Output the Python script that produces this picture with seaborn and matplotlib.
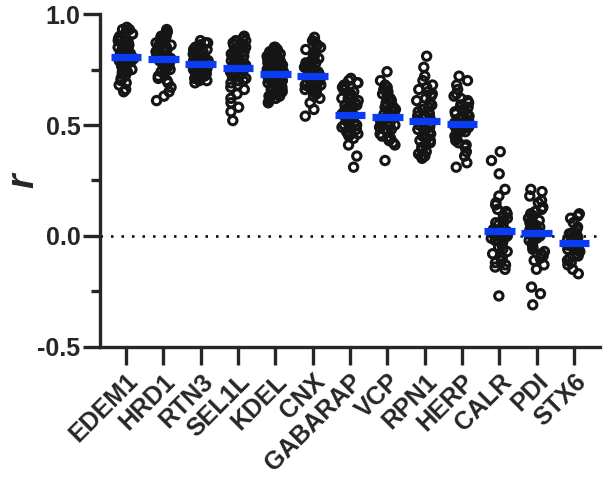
import numpy as np
import pandas as pd
import matplotlib
matplotlib.use("Agg")
import matplotlib.pyplot as plt
import seaborn as sns
from matplotlib.ticker import MultipleLocator

categories = ["EDEM1", "HRD1", "RTN3", "SEL1L", "KDEL", "CNX", "GABARAP",
              "VCP", "RPN1", "HERP", "CALR", "PDI", "STX6"]

edem1 = [0.94,0.93,0.93,0.92,0.91,0.91,0.90,0.89,0.89,0.88,0.88,0.87,0.87,0.86,0.86,0.85,0.85,0.84,0.84,0.84,0.83,0.83,0.83,0.82,0.82,0.82,0.81,0.81,0.81,0.80,0.80,0.80,0.80,0.79,0.79,0.79,0.78,0.78,0.78,0.77,0.77,0.77,0.76,0.76,0.75,0.75,0.74,0.74,0.73,0.72,0.71,0.70,0.69,0.68,0.66,0.65]
hrd1 = [0.93,0.92,0.92,0.91,0.90,0.90,0.89,0.88,0.88,0.87,0.87,0.86,0.86,0.85,0.85,0.84,0.84,0.84,0.83,0.83,0.83,0.82,0.82,0.82,0.81,0.81,0.81,0.80,0.80,0.80,0.79,0.79,0.79,0.78,0.78,0.77,0.77,0.76,0.76,0.75,0.75,0.74,0.73,0.72,0.71,0.70,0.69,0.67,0.65,0.63,0.61]
rtn3 = [0.88,0.87,0.87,0.86,0.86,0.85,0.85,0.84,0.84,0.83,0.83,0.83,0.82,0.82,0.81,0.81,0.80,0.80,0.80,0.79,0.79,0.79,0.78,0.78,0.78,0.77,0.77,0.77,0.77,0.76,0.76,0.76,0.75,0.75,0.75,0.74,0.74,0.74,0.73,0.73,0.72,0.72,0.71,0.71,0.70,0.70,0.69]
sel1l = [0.90,0.89,0.88,0.88,0.87,0.86,0.86,0.85,0.85,0.84,0.84,0.83,0.83,0.82,0.82,0.81,0.81,0.80,0.80,0.80,0.79,0.79,0.78,0.78,0.77,0.77,0.77,0.76,0.76,0.76,0.75,0.75,0.74,0.74,0.73,0.73,0.72,0.72,0.71,0.70,0.70,0.69,0.68,0.67,0.66,0.64,0.62,0.60,0.58,0.56,0.52]
kdel = [0.85,0.85,0.84,0.84,0.83,0.83,0.83,0.82,0.82,0.82,0.81,0.81,0.81,0.81,0.80,0.80,0.80,0.80,0.79,0.79,0.79,0.79,0.78,0.78,0.78,0.78,0.78,0.77,0.77,0.77,0.77,0.77,0.76,0.76,0.76,0.76,0.76,0.75,0.75,0.75,0.75,0.75,0.74,0.74,0.74,0.74,0.74,0.73,0.73,0.73,0.73,0.73,0.72,0.72,0.72,0.72,0.72,0.71,0.71,0.71,0.71,0.71,0.70,0.70,0.70,0.70,0.70,0.69,0.69,0.69,0.69,0.68,0.68,0.68,0.68,0.67,0.67,0.67,0.66,0.66,0.66,0.65,0.65,0.64,0.64,0.63,0.63,0.62,0.62,0.61,0.60]
cnx = [0.895,0.88,0.87,0.86,0.85,0.84,0.83,0.82,0.82,0.81,0.80,0.80,0.79,0.79,0.78,0.78,0.77,0.77,0.76,0.76,0.75,0.75,0.75,0.74,0.74,0.73,0.73,0.73,0.72,0.72,0.71,0.71,0.70,0.70,0.69,0.69,0.68,0.68,0.67,0.67,0.66,0.66,0.65,0.64,0.63,0.62,0.60,0.57,0.54]
gabarap = [0.71,0.70,0.69,0.69,0.68,0.67,0.66,0.66,0.65,0.64,0.63,0.63,0.62,0.62,0.61,0.60,0.60,0.59,0.59,0.58,0.58,0.57,0.57,0.56,0.56,0.55,0.55,0.54,0.54,0.53,0.53,0.52,0.52,0.51,0.51,0.50,0.50,0.49,0.48,0.47,0.46,0.46,0.45,0.44,0.41,0.36,0.31]
vcp = [0.74,0.70,0.68,0.67,0.66,0.65,0.64,0.63,0.63,0.62,0.61,0.60,0.60,0.59,0.58,0.58,0.57,0.57,0.56,0.56,0.55,0.55,0.54,0.54,0.53,0.53,0.52,0.52,0.51,0.51,0.50,0.50,0.49,0.48,0.48,0.47,0.46,0.45,0.44,0.43,0.42,0.41,0.34]
rpn1 = [0.81,0.76,0.72,0.70,0.68,0.67,0.66,0.65,0.64,0.63,0.62,0.61,0.60,0.59,0.58,0.57,0.57,0.56,0.56,0.55,0.54,0.54,0.53,0.53,0.52,0.52,0.51,0.50,0.50,0.49,0.48,0.48,0.47,0.46,0.46,0.45,0.44,0.43,0.43,0.42,0.41,0.40,0.39,0.38,0.37,0.36,0.36,0.35]
herp = [0.72,0.70,0.68,0.66,0.64,0.63,0.62,0.61,0.60,0.59,0.59,0.58,0.57,0.57,0.56,0.56,0.55,0.55,0.54,0.54,0.53,0.53,0.52,0.52,0.51,0.51,0.50,0.50,0.49,0.49,0.48,0.48,0.47,0.46,0.46,0.45,0.44,0.43,0.42,0.41,0.40,0.38,0.36,0.33,0.31]
calr = [0.38,0.34,0.28,0.21,0.18,0.15,0.14,0.12,0.11,0.10,0.09,0.08,0.07,0.06,0.05,0.05,0.04,0.04,0.03,0.03,0.02,0.02,0.01,0.01,0.00,0.00,-0.01,-0.01,-0.02,-0.02,-0.03,-0.04,-0.05,-0.06,-0.07,-0.08,-0.09,-0.10,-0.11,-0.12,-0.13,-0.14,-0.15,-0.27]
pdi = [0.21,0.20,0.18,0.16,0.15,0.13,0.12,0.11,0.10,0.09,0.08,0.07,0.06,0.06,0.05,0.05,0.04,0.04,0.03,0.03,0.02,0.02,0.01,0.01,0.00,0.00,-0.01,-0.02,-0.03,-0.04,-0.05,-0.06,-0.07,-0.08,-0.09,-0.10,-0.11,-0.13,-0.15,-0.23,-0.26,-0.31]
stx6 = [0.10,0.09,0.08,0.06,0.04,0.03,0.02,0.01,0.01,0.00,0.00,-0.01,-0.01,-0.02,-0.02,-0.03,-0.03,-0.03,-0.04,-0.04,-0.05,-0.05,-0.06,-0.06,-0.07,-0.08,-0.09,-0.10,-0.11,-0.12,-0.13,-0.15,-0.17]

# mean line values
means = [0.805, 0.796, 0.774, 0.755, 0.728, 0.719, 0.543, 0.534, 0.52, 0.505, 0.023, 0.014, -0.03]

series = [edem1, hrd1, rtn3, sel1l, kdel, cnx, gabarap, vcp, rpn1, herp, calr, pdi, stx6]
df = pd.DataFrame({
    "group": np.concatenate([[c] * len(v) for c, v in zip(categories, series)]),
    "r": np.concatenate(series),
})
mean_df = pd.DataFrame({"group": categories, "r": means})

sns.set_style("ticks")
plt.rcParams["font.family"] = ["Liberation Sans", "DejaVu Sans"]
plt.rcParams["font.weight"] = "bold"

fig = plt.figure(figsize=(6.05, 4.83), dpi=100)
ax = fig.add_axes([0.165, 0.2816, 0.827, 0.6894])

np.random.seed(3)
sns.stripplot(data=df, x="group", y="r", order=categories, color="black",
              jitter=0.22, size=6.0, ax=ax, zorder=2)
for c in ax.collections:
    c.set_facecolor("none")
    c.set_edgecolor("#151515")
    c.set_linewidth(2.2)

xpos = np.arange(len(categories))
ax.hlines(mean_df["r"], xpos - 0.41, xpos + 0.41, colors="#0a3cf5", linewidth=5.2, zorder=4)

ax.axhline(0, color="black", linestyle=(0, (1, 3.2)), linewidth=1.8, zorder=1)

ax.set_xlim(-0.7, 12.7)
ax.set_ylim(-0.5, 1.0)
ax.yaxis.set_major_locator(MultipleLocator(0.5))
ax.yaxis.set_minor_locator(MultipleLocator(0.25))
ax.set_yticks([-0.5, 0.0, 0.5, 1.0])
ax.set_yticklabels(["-0.5", "0.0", "0.5", "1.0"])

for s in ["top", "right"]:
    ax.spines[s].set_visible(False)
for s in ["left", "bottom"]:
    ax.spines[s].set_linewidth(2.4)

ax.tick_params(axis="y", which="major", length=12, width=2.4, labelsize=18, pad=2)
ax.tick_params(axis="y", which="minor", length=6.5, width=2.4)
ax.tick_params(axis="x", which="major", length=13, width=2.4, labelsize=18, pad=3)
plt.setp(ax.get_xticklabels(), rotation=45, ha="right", rotation_mode="anchor", fontweight="bold")
plt.setp(ax.get_yticklabels(), fontweight="bold")

ax.set_xlabel("")
ax.set_ylabel("r", fontsize=27, fontweight="bold", fontstyle="italic")
ax.yaxis.label.set_verticalalignment("center")
ax.yaxis.set_label_coords(-0.153, 0.5)

fig.savefig("out.png", dpi=100)
